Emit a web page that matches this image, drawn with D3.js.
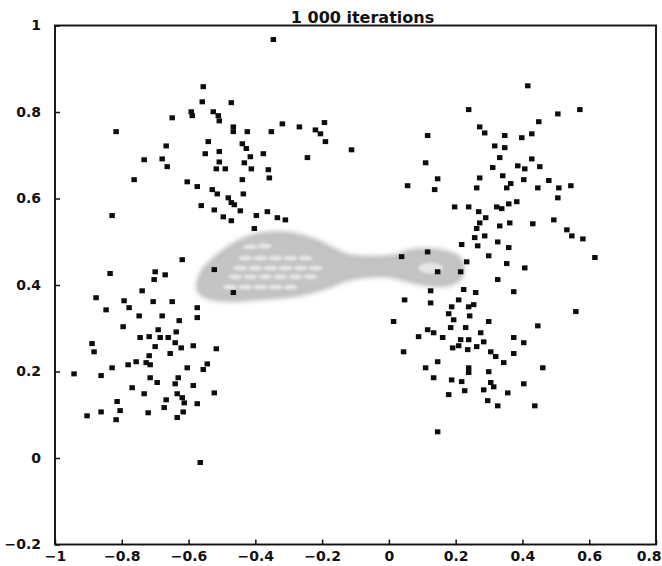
<!DOCTYPE html>
<html>
<head>
<meta charset="utf-8">
<script src="https://cdn.jsdelivr.net/npm/d3@7"></script>
<style>
  body { margin: 0; background: #fff; }
  svg { display: block; }
</style>
</head>
<body>
<svg id="chart" width="662" height="566"></svg>
<script>
// Title and axis ticks
const chartTitle = "1 000 iterations";
const xTicks = [-1, -0.8, -0.6, -0.4, -0.2, 0, 0.2, 0.4, 0.6, 0.8];
const yTicks = [-0.2, 0, 0.2, 0.4, 0.6, 0.8, 1];

// Sample positions after 1 000 iterations, grouped by cluster
const upperLeft = [
  [-0.556,0.858],[-0.559,0.823],[-0.472,0.821],[-0.649,0.786],[-0.592,0.800],[-0.589,0.791],
  [-0.526,0.800],[-0.511,0.791],[-0.508,0.779],[-0.817,0.754],[-0.466,0.765],[-0.466,0.754],
  [-0.424,0.754],[-0.352,0.754],[-0.319,0.772],[-0.268,0.765],[-0.220,0.758],[-0.193,0.775],
  [-0.205,0.749],[-0.190,0.731],[-0.112,0.712],[-0.244,0.694],[-0.667,0.721],[-0.541,0.731],
  [-0.439,0.726],[-0.427,0.715],[-0.415,0.696],[-0.508,0.708],[-0.550,0.703],[-0.376,0.703],
  [-0.733,0.689],[-0.679,0.691],[-0.508,0.684],[-0.433,0.682],[-0.664,0.673],[-0.517,0.668],
  [-0.490,0.668],[-0.412,0.668],[-0.361,0.666],[-0.358,0.647],[-0.763,0.643],[-0.439,0.643],
  [-0.604,0.638],[-0.574,0.627],[-0.529,0.620],[-0.514,0.610],[-0.436,0.610],[-0.481,0.601],
  [-0.472,0.590],[-0.463,0.585],[-0.829,0.560],[-0.562,0.583],[-0.523,0.573],[-0.445,0.571],
  [-0.364,0.569],[-0.397,0.560],[-0.334,0.555],[-0.310,0.550],[-0.496,0.557],[-0.472,0.548],
  [-0.403,0.530]
];
const upperRight = [
  [0.416,0.860],[0.239,0.805],[0.572,0.805],[0.506,0.795],[0.449,0.777],[0.116,0.745],
  [0.272,0.765],[0.287,0.751],[0.347,0.745],[0.398,0.740],[0.428,0.749],[0.317,0.721],
  [0.347,0.717],[0.332,0.694],[0.428,0.691],[0.110,0.682],[0.311,0.671],[0.386,0.675],
  [0.407,0.668],[0.452,0.673],[0.146,0.645],[0.272,0.647],[0.341,0.652],[0.404,0.643],
  [0.479,0.641],[0.056,0.629],[0.137,0.620],[0.263,0.624],[0.365,0.634],[0.353,0.624],
  [0.446,0.624],[0.509,0.624],[0.545,0.629],[0.506,0.601],[0.197,0.580],[0.239,0.580],
  [0.269,0.569],[0.323,0.580],[0.338,0.576],[0.359,0.587],[0.383,0.592],[0.290,0.555],
  [0.272,0.543],[0.332,0.536],[0.362,0.543],[0.431,0.541],[0.494,0.550],[0.533,0.527],
  [0.548,0.513],[0.581,0.506],[0.263,0.530],[0.257,0.509],[0.287,0.513],[0.218,0.493],
  [0.266,0.490],[0.326,0.499],[0.359,0.486],[0.617,0.463],[0.560,0.338]
];
const lowerRight = [
  [0.116,0.476],[0.038,0.465],[0.299,0.467],[0.233,0.453],[0.353,0.449],[0.407,0.439],
  [0.146,0.430],[0.215,0.430],[0.326,0.412],[0.125,0.386],[0.224,0.389],[0.260,0.382],
  [0.374,0.384],[0.047,0.365],[0.125,0.358],[0.209,0.365],[0.239,0.349],[0.254,0.354],
  [0.188,0.349],[0.179,0.333],[0.242,0.328],[0.194,0.319],[0.014,0.315],[0.299,0.315],
  [0.446,0.305],[0.116,0.296],[0.134,0.289],[0.185,0.301],[0.230,0.301],[0.275,0.289],
  [0.089,0.280],[0.161,0.278],[0.215,0.273],[0.239,0.273],[0.284,0.268],[0.374,0.278],
  [0.404,0.266],[0.191,0.254],[0.209,0.259],[0.236,0.250],[0.263,0.257],[0.305,0.245],
  [0.320,0.234],[0.374,0.241],[0.044,0.245],[0.146,0.222],[0.344,0.220],[0.110,0.208],
  [0.239,0.208],[0.239,0.197],[0.299,0.199],[0.461,0.208],[0.134,0.185],[0.188,0.180],
  [0.218,0.176],[0.305,0.174],[0.314,0.164],[0.404,0.171],[0.227,0.155],[0.284,0.157],
  [0.356,0.150],[0.179,0.146],[0.296,0.132],[0.326,0.120],[0.437,0.120],[0.146,0.060]
];
const lowerLeft = [
  [-0.619,0.458],[-0.523,0.435],[-0.466,0.382],[-0.835,0.426],[-0.700,0.430],[-0.670,0.423],
  [-0.703,0.412],[-0.739,0.386],[-0.877,0.370],[-0.793,0.363],[-0.706,0.361],[-0.649,0.361],
  [-0.847,0.342],[-0.778,0.347],[-0.574,0.347],[-0.748,0.328],[-0.679,0.328],[-0.628,0.317],
  [-0.574,0.324],[-0.796,0.303],[-0.691,0.296],[-0.637,0.291],[-0.745,0.278],[-0.718,0.280],
  [-0.685,0.278],[-0.661,0.278],[-0.889,0.264],[-0.700,0.257],[-0.640,0.266],[-0.622,0.254],
  [-0.883,0.245],[-0.655,0.241],[-0.586,0.259],[-0.517,0.252],[-0.718,0.236],[-0.757,0.222],
  [-0.727,0.220],[-0.715,0.215],[-0.781,0.215],[-0.829,0.208],[-0.604,0.208],[-0.544,0.217],
  [-0.556,0.204],[-0.943,0.194],[-0.862,0.190],[-0.715,0.185],[-0.694,0.174],[-0.631,0.185],
  [-0.640,0.171],[-0.769,0.162],[-0.586,0.167],[-0.523,0.150],[-0.733,0.148],[-0.634,0.148],
  [-0.619,0.139],[-0.613,0.127],[-0.667,0.134],[-0.814,0.130],[-0.574,0.125],[-0.673,0.116],
  [-0.616,0.106],[-0.904,0.097],[-0.862,0.106],[-0.805,0.109],[-0.817,0.088],[-0.721,0.104],
  [-0.634,0.093],[-0.565,-0.011]
];
const strays = [[-0.346,0.967]];

// Outline of the density region connecting the left and right clusters
const densityOutline = [
  [-0.571,0.389],[-0.559,0.430],[-0.526,0.458],[-0.490,0.481],[-0.439,0.504],[-0.391,0.516],
  [-0.334,0.520],[-0.280,0.516],[-0.226,0.504],[-0.175,0.486],[-0.130,0.469],[-0.055,0.463],
  [0.020,0.467],[0.050,0.476],[0.110,0.481],[0.170,0.476],[0.209,0.463],[0.221,0.439],
  [0.209,0.412],[0.170,0.400],[0.110,0.402],[0.050,0.412],[0.005,0.421],[-0.070,0.421],
  [-0.130,0.412],[-0.175,0.398],[-0.226,0.386],[-0.295,0.375],[-0.376,0.370],[-0.475,0.365],
  [-0.544,0.372]
];
// Lighter pockets inside the density region
const densityPockets = [
  [-0.415,0.488],[-0.372,0.490],
  [-0.430,0.462],[-0.385,0.462],[-0.340,0.462],[-0.295,0.462],[-0.250,0.462],
  [-0.445,0.439],[-0.400,0.439],[-0.355,0.439],[-0.310,0.439],[-0.265,0.439],[-0.220,0.439],
  [-0.460,0.419],[-0.415,0.419],[-0.370,0.419],[-0.325,0.419],[-0.280,0.419],[-0.235,0.419],
  [-0.475,0.395],[-0.430,0.395],[-0.385,0.395],[-0.340,0.395],[-0.295,0.395]
];
const loopPocket = [[0.125,0.439]];

const svg = d3.select("#chart");
const W = 662, H = 566;
const margin = { left: 55, right: 6, top: 25.5, bottom: 21.5 };

const x = d3.scaleLinear().domain([-1, 0.8]).range([margin.left, W - margin.right]);
const y = d3.scaleLinear().domain([-0.2, 1]).range([H - margin.bottom, margin.top]);

const defs = svg.append("defs");
defs.append("filter").attr("id", "soft").attr("x", "-20%").attr("y", "-50%").attr("width", "140%").attr("height", "200%")
  .append("feGaussianBlur").attr("stdDeviation", 2.6);
defs.append("filter").attr("id", "softer")
  .append("feGaussianBlur").attr("stdDeviation", 1.3);
defs.append("filter").attr("id", "dot")
  .append("feGaussianBlur").attr("stdDeviation", 0.45);

svg.append("rect").attr("width", W).attr("height", H).attr("fill", "#fff");

const font = "'DejaVu Sans', sans-serif";

// Density region
const area = d3.line().x(d => x(d[0])).y(d => y(d[1])).curve(d3.curveCatmullRomClosed.alpha(0.5));
svg.append("path")
  .attr("d", area(densityOutline))
  .attr("fill", "#c4c4c4")
  .attr("stroke", "#b4b4b4")
  .attr("stroke-width", 3)
  .attr("filter", "url(#soft)");

svg.append("g").attr("filter", "url(#softer)")
  .selectAll("ellipse").data(densityPockets).join("ellipse")
  .attr("cx", d => x(d[0])).attr("cy", d => y(d[1]))
  .attr("rx", 7).attr("ry", 2.6)
  .attr("fill", "#e4e4e4");

svg.append("g").attr("filter", "url(#softer)")
  .selectAll("ellipse").data(loopPocket).join("ellipse")
  .attr("cx", d => x(d[0])).attr("cy", d => y(d[1]))
  .attr("rx", 12).attr("ry", 5.5)
  .attr("fill", "#e6e6e6");

// Sample points
const allPoints = [...upperLeft, ...upperRight, ...lowerRight, ...lowerLeft, ...strays];
const s = 5.5;
svg.append("g").attr("filter", "url(#dot)")
  .selectAll("rect").data(allPoints).join("rect")
  .attr("x", d => x(d[0]) - s / 2)
  .attr("y", d => y(d[1]) - s / 2)
  .attr("width", s).attr("height", s - 0.5)
  .attr("fill", "#111");

// Axes (ticks point inward)
const fmt = d => d3.format("")(d).replace("-", "\u2212");

const xAxis = svg.append("g")
  .attr("transform", `translate(0,${y(-0.2)})`)
  .call(d3.axisBottom(x).tickValues(xTicks).tickSizeInner(-5).tickSizeOuter(0).tickPadding(7).tickFormat(fmt));
const yAxis = svg.append("g")
  .attr("transform", `translate(${x(-1)},0)`)
  .call(d3.axisLeft(y).tickValues(yTicks).tickSizeInner(-5).tickSizeOuter(0).tickPadding(14).tickFormat(fmt));

[xAxis, yAxis].forEach(g => {
  g.select(".domain").remove();
  g.selectAll(".tick line").attr("stroke", "#111").attr("stroke-width", 1.5);
  g.selectAll(".tick text")
    .attr("fill", "#111")
    .style("font-family", font)
    .style("font-weight", "bold")
    .style("font-size", "14px");
});
// keep the last x label inside the page
xAxis.selectAll(".tick text").filter(d => d === 0.8)
  .attr("text-anchor", "end").attr("x", W - 1 - x(0.8));

// Frame
svg.append("rect")
  .attr("x", x(-1)).attr("y", y(1))
  .attr("width", x(0.8) - x(-1)).attr("height", y(-0.2) - y(1))
  .attr("fill", "none").attr("stroke", "#111").attr("stroke-width", 1.9);

// Title
svg.append("text")
  .attr("x", (x(-1) + x(0.8)) / 2 + 7)
  .attr("y", y(1) - 2.5)
  .attr("text-anchor", "middle")
  .style("font-family", font)
  .style("font-weight", "bold")
  .style("font-size", "16px")
  .attr("fill", "#111")
  .text(chartTitle);
</script>
</body>
</html>
